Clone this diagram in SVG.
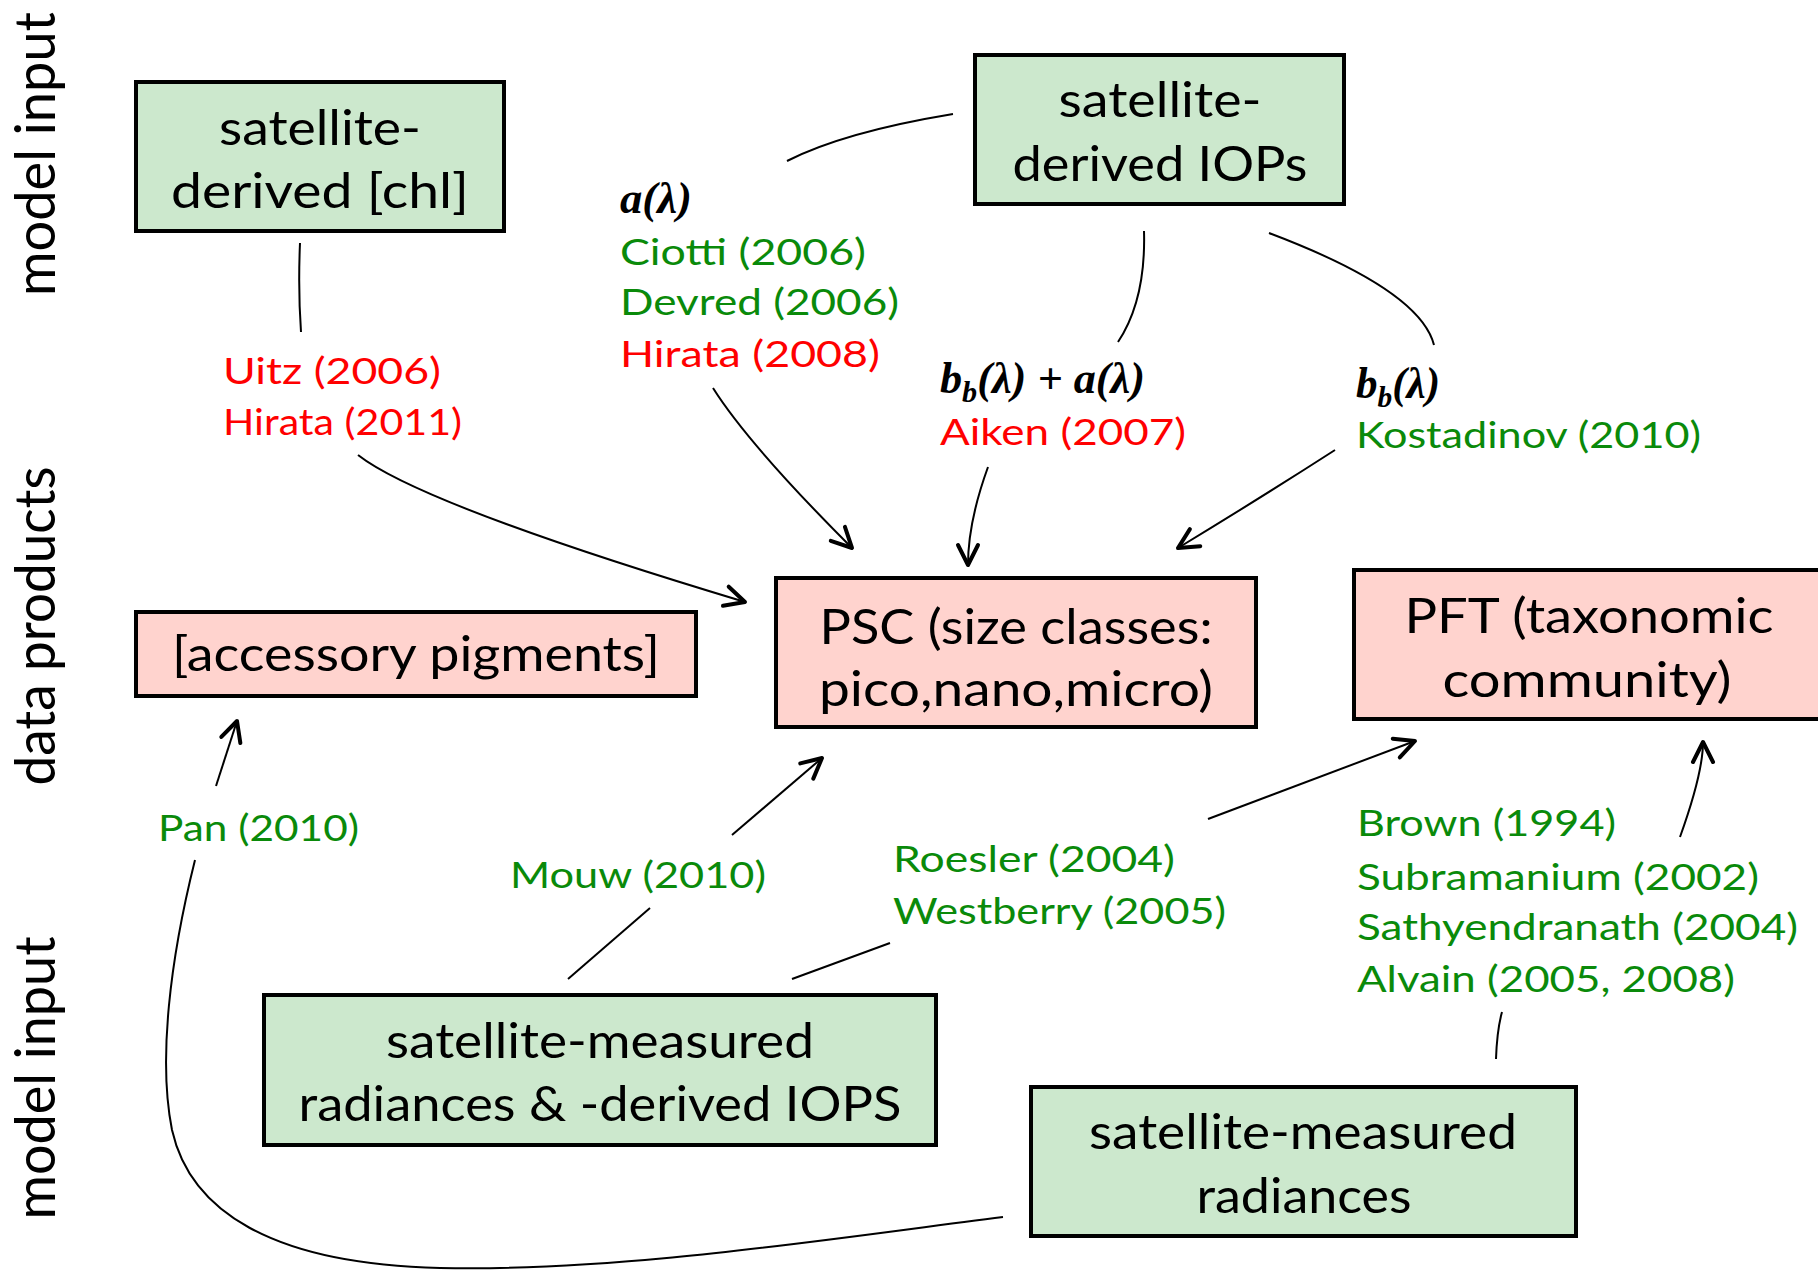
<svg xmlns="http://www.w3.org/2000/svg" width="1818" height="1273" viewBox="0 0 1818 1273">
<defs>
<style>
.box rect{stroke:#000;stroke-width:4}
.g rect{fill:#CCE8CD}
.p rect{fill:#FFD3CE}
.bt{font-family:Lato,"Open Sans",sans-serif;font-size:48px;fill:#000;text-anchor:middle}
.side{font-family:Lato,"Open Sans",sans-serif;font-size:56px;fill:#000;text-anchor:middle}
.ref{font-family:Lato,"Open Sans",sans-serif;font-size:36px}
.gr{fill:#0A8A0A}
.rd{fill:#FF0000}
.math{font-family:"Liberation Serif","Times New Roman",serif;font-size:44px;font-weight:bold;font-style:italic;fill:#000}
.sub{font-size:30px}
.c path{fill:none;stroke:#000;stroke-width:2}
.c path.a{marker-end:url(#arr)}
</style>
<marker id="arr" markerUnits="userSpaceOnUse" markerWidth="30" markerHeight="30" refX="0" refY="0" orient="auto" overflow="visible" viewBox="-25 -15 30 30">
<path d="M-20,-10 L0,0 L-20,10" fill="none" stroke="#000" stroke-width="4" stroke-linecap="round" stroke-linejoin="round"/>
</marker>
</defs>
<rect width="1818" height="1273" fill="#fff"/>

<g id="labels">
<text class="side" transform="translate(55,154) rotate(-90)" textLength="284" lengthAdjust="spacingAndGlyphs">model input</text>
<text class="side" transform="translate(55,626) rotate(-90)" textLength="319" lengthAdjust="spacingAndGlyphs">data products</text>
<text class="side" transform="translate(55,1078) rotate(-90)" textLength="283" lengthAdjust="spacingAndGlyphs">model input</text>
</g>

<g id="connectors" class="c">
<path d="M300,243 Q298,290 301,332"/>
<path class="a" d="M358,455 Q422,505 745,602"/>
<path d="M953,114 Q844,132 787,161"/>
<path class="a" d="M713,388 Q749,445 852,548"/>
<path d="M1144,231 Q1146,300 1118,342"/>
<path class="a" d="M988,467 Q968,522 968,565"/>
<path d="M1269,233 Q1420,290 1434,345"/>
<path class="a" d="M1335,450 Q1262,497 1178,548"/>
<path class="a" d="M216,786 L237,721"/>
<path d="M1003,1217 C820,1240 620,1272 440,1268 C270,1264 190,1210 172,1130 C158,1060 170,960 195,860"/>
<path class="a" d="M732,835 L822,758"/>
<path d="M568,979 L650,908"/>
<path d="M792,979 L890,943"/>
<path class="a" d="M1208,819 L1415,741"/>
<path d="M1496,1059 Q1497,1030 1502,1012"/>
<path class="a" d="M1680,837 Q1703,773 1703,742"/>
</g>

<g id="node-chl" class="box g">
<rect x="136" y="82" width="368" height="149"/>
<text class="bt" x="320" y="145" textLength="202" lengthAdjust="spacingAndGlyphs">satellite-</text>
<text class="bt" x="320" y="208" textLength="298" lengthAdjust="spacingAndGlyphs">derived [chl]</text>
</g>

<g id="node-iops" class="box g">
<rect x="975" y="55" width="369" height="149"/>
<text class="bt" x="1160" y="117" textLength="203" lengthAdjust="spacingAndGlyphs">satellite-</text>
<text class="bt" x="1160" y="181" textLength="295" lengthAdjust="spacingAndGlyphs">derived IOPs</text>
</g>

<g id="node-accessory" class="box p">
<rect x="136" y="612" width="560" height="84"/>
<text class="bt" x="416" y="671" textLength="488" lengthAdjust="spacingAndGlyphs">[accessory pigments]</text>
</g>

<g id="node-psc" class="box p">
<rect x="776" y="578" width="480" height="149"/>
<text class="bt" x="1016" y="644" textLength="393" lengthAdjust="spacingAndGlyphs">PSC (size classes:</text>
<text class="bt" x="1016" y="706" textLength="394" lengthAdjust="spacingAndGlyphs">pico,nano,micro)</text>
</g>

<g id="node-pft" class="box p">
<rect x="1354" y="570" width="470" height="149"/>
<text class="bt" x="1589" y="633" textLength="369" lengthAdjust="spacingAndGlyphs">PFT (taxonomic</text>
<text class="bt" x="1587" y="697" textLength="289" lengthAdjust="spacingAndGlyphs">community)</text>
</g>

<g id="node-rad-iops" class="box g">
<rect x="264" y="995" width="672" height="150"/>
<text class="bt" x="600" y="1058" textLength="428" lengthAdjust="spacingAndGlyphs">satellite-measured</text>
<text class="bt" x="600" y="1121" textLength="603" lengthAdjust="spacingAndGlyphs">radiances &amp; -derived IOPS</text>
</g>

<g id="node-rad" class="box g">
<rect x="1031" y="1087" width="545" height="149"/>
<text class="bt" x="1303" y="1149" textLength="428" lengthAdjust="spacingAndGlyphs">satellite-measured</text>
<text class="bt" x="1304" y="1213" textLength="215" lengthAdjust="spacingAndGlyphs">radiances</text>
</g>

<g id="refs-chl">
<text class="ref rd" x="223" y="384" textLength="218" lengthAdjust="spacingAndGlyphs">Uitz (2006)</text>
<text class="ref rd" x="223" y="435" textLength="239" lengthAdjust="spacingAndGlyphs">Hirata (2011)</text>
</g>

<g id="refs-a">
<text class="math" x="620" y="213" textLength="72" lengthAdjust="spacingAndGlyphs">a(λ)</text>
<text class="ref gr" x="620" y="265" textLength="246" lengthAdjust="spacingAndGlyphs">Ciotti (2006)</text>
<text class="ref gr" x="620" y="315" textLength="279" lengthAdjust="spacingAndGlyphs">Devred (2006)</text>
<text class="ref rd" x="620" y="367" textLength="260" lengthAdjust="spacingAndGlyphs">Hirata (2008)</text>
</g>

<g id="refs-bba">
<text class="math" x="940" y="393" textLength="205" lengthAdjust="spacingAndGlyphs">b<tspan class="sub" dy="9">b</tspan><tspan dy="-9">(λ) + a(λ)</tspan></text>
<text class="ref rd" x="940" y="445" textLength="246" lengthAdjust="spacingAndGlyphs">Aiken (2007)</text>
</g>

<g id="refs-bb">
<text class="math" x="1356" y="398" textLength="84" lengthAdjust="spacingAndGlyphs">b<tspan class="sub" dy="9">b</tspan><tspan dy="-9">(λ)</tspan></text>
<text class="ref gr" x="1356" y="448" textLength="345" lengthAdjust="spacingAndGlyphs">Kostadinov (2010)</text>
</g>

<g id="refs-pan">
<text class="ref gr" x="158" y="841" textLength="201" lengthAdjust="spacingAndGlyphs">Pan (2010)</text>
</g>

<g id="refs-mouw">
<text class="ref gr" x="510" y="888" textLength="256" lengthAdjust="spacingAndGlyphs">Mouw (2010)</text>
</g>

<g id="refs-roesler">
<text class="ref gr" x="893" y="872" textLength="282" lengthAdjust="spacingAndGlyphs">Roesler (2004)</text>
<text class="ref gr" x="893" y="924" textLength="333" lengthAdjust="spacingAndGlyphs">Westberry (2005)</text>
</g>

<g id="refs-pft">
<text class="ref gr" x="1357" y="836" textLength="259" lengthAdjust="spacingAndGlyphs">Brown (1994)</text>
<text class="ref gr" x="1357" y="890" textLength="402" lengthAdjust="spacingAndGlyphs">Subramanium (2002)</text>
<text class="ref gr" x="1357" y="940" textLength="441" lengthAdjust="spacingAndGlyphs">Sathyendranath (2004)</text>
<text class="ref gr" x="1357" y="992" textLength="378" lengthAdjust="spacingAndGlyphs">Alvain (2005, 2008)</text>
</g>
</svg>
